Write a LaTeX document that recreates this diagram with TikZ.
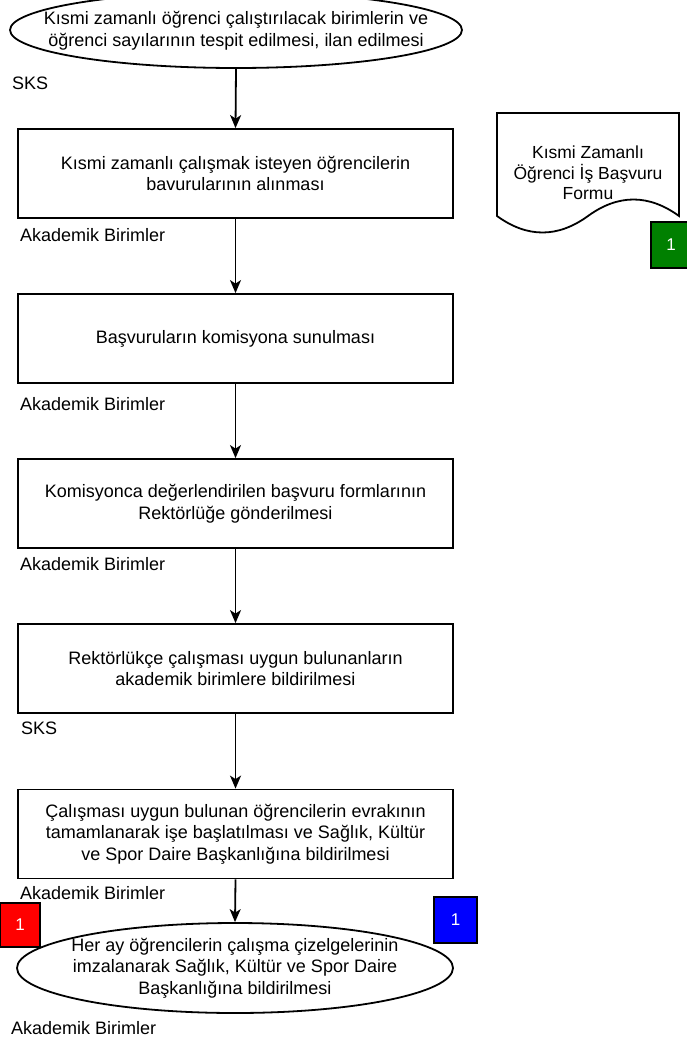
\documentclass[tikz,border=0pt]{standalone}
\usepackage{fontspec}
\setmainfont{Liberation Sans}
\usetikzlibrary{shapes.geometric,arrows.meta}
\tikzset{
  procbox/.style={draw, line width=1.8pt, minimum width=435pt, minimum height=89pt, inner sep=0pt, align=center},
  ovalbox/.style={draw, line width=1.8pt, ellipse, inner sep=0pt},
  lbl/.style={anchor=west, inner sep=0pt},
  flow/.style={line width=1.8pt, -{Stealth[length=13pt,width=11pt,inset=3.5pt]}},
  tag/.style={draw, line width=1.8pt, text=white, inner sep=0pt, font=\fontsize{17}{20}\selectfont}
}
\begin{document}
\begin{tikzpicture}[x=1pt,y=-1pt,font=\fontsize{18}{21.6}\selectfont]
\useasboundingbox (0,0) rectangle (686,1044);
% top ellipse
\node[ovalbox, minimum width=452pt, minimum height=76pt] (e1) at (236,30) {};
\node[align=center, inner sep=0pt] (e1t) at (236,31) {Kısmi zamanlı öğrenci çalıştırılacak birimlerin ve\\öğrenci sayılarının tespit edilmesi, ilan edilmesi};
\node[lbl] (l0) at (12,83) {SKS};
% process boxes
\node[procbox] (b1) at (235.5,173.5) {Kısmi zamanlı çalışmak isteyen öğrencilerin\\bavurularının alınması};
\node[lbl] (l1) at (20,235) {Akademik Birimler};
\node[procbox] (b2) at (235.5,338.5) {Başvuruların komisyona sunulması};
\node[lbl] (l2) at (20,404) {Akademik Birimler};
\node[procbox] (b3) at (235.5,503.5) {Komisyonca değerlendirilen başvuru formlarının\\Rektörlüğe gönderilmesi};
\node[lbl] (l3) at (20,564) {Akademik Birimler};
\node[procbox] (b4) at (235.5,668.5) {Rektörlükçe çalışması uygun bulunanların\\akademik birimlere bildirilmesi};
\node[lbl] (l4) at (21,728) {SKS};
\node[procbox] (b5) at (235.5,834) {Çalışması uygun bulunan öğrencilerin evrakının\\tamamlanarak işe başlatılması ve Sağlık, Kültür\\ve Spor Daire Başkanlığına bildirilmesi};
\node[lbl] (l5) at (20,893) {Akademik Birimler};
% bottom ellipse
\node[ovalbox, minimum width=436pt, minimum height=90pt] (e2) at (235,968) {};
\node[align=center, inner sep=0pt] (e2t) at (e2.center) {Her ay öğrencilerin çalışma çizelgelerinin\\imzalanarak Sağlık, Kültür ve Spor Daire\\Başkanlığına bildirilmesi};
\node[lbl] (l6) at (11,1028) {Akademik Birimler};
% connectors
\draw[flow] (e1.south) -- (b1.north);
\draw[flow] (b1.south) -- (b2.north);
\draw[flow] (b2.south) -- (b3.north);
\draw[flow] (b3.south) -- (b4.north);
\draw[flow] (b4.south) -- (b5.north);
\draw[flow] (b5.south) -- (e2.north);
% document shape
\draw[line width=1.8pt, fill=white] (497,113) -- (679,113) -- (679,216)
  .. controls (648.7,194) and (618.3,194) .. (588,216)
  .. controls (557.7,238) and (527.3,238) .. (497,216) -- cycle;
\node[align=center, inner sep=0pt, font=\fontsize{17.5}{20.5}\selectfont] (doc) at (588,173) {Kısmi Zamanlı\\Öğrenci İş Başvuru\\Formu};
% tags
\node[tag, fill={rgb,255:red,0;green,128;blue,0}, minimum width=40pt, minimum height=46pt] (g1) at (671,245) {1};
\node[tag, fill=red, minimum width=40pt, minimum height=44pt] (r1) at (20,925) {1};
\node[tag, fill=blue, minimum width=43pt, minimum height=46pt] (u1) at (455.5,920) {1};
\end{tikzpicture}
\end{document}
